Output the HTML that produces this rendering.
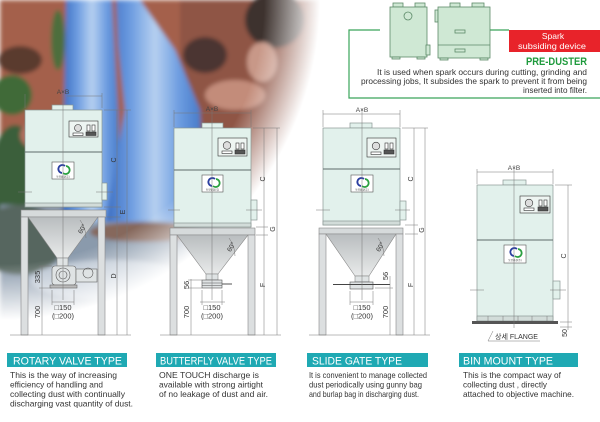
<!DOCTYPE html>
<html><head><meta charset="utf-8">
<style>
html,body{margin:0;padding:0;background:#fff;}
svg{display:block;}
text{font-family:"Liberation Sans","Noto Sans CJK KR",sans-serif;}
</style></head><body>
<svg width="600" height="422" viewBox="0 0 600 422" xmlns="http://www.w3.org/2000/svg">
<defs>
<filter id="bl" x="-10%" y="-10%" width="120%" height="120%"><feGaussianBlur stdDeviation="2.2"/></filter>
<radialGradient id="mg" cx="0" cy="0" r="330" gradientUnits="userSpaceOnUse">
 <stop offset="0" stop-color="#fff"/><stop offset="0.8" stop-color="#fff"/><stop offset="0.97" stop-color="#000"/>
</radialGradient>
<mask id="pm"><rect width="600" height="422" fill="url(#mg)"/></mask>
<linearGradient id="wf" x1="0" y1="0" x2="1" y2="0">
 <stop offset="0" stop-color="#3a6cc0"/><stop offset="0.25" stop-color="#6b9be0"/><stop offset="0.5" stop-color="#b6d0f0"/><stop offset="0.75" stop-color="#6b9be0"/><stop offset="1" stop-color="#4075c4"/>
</linearGradient>
<linearGradient id="hop" x1="0" y1="0" x2="0" y2="1"><stop offset="0" stop-color="#b9bdbf"/><stop offset="1" stop-color="#e8eaea"/></linearGradient>
</defs>

<!-- PHOTO -->
<g mask="url(#pm)"><g filter="url(#bl)">
<rect x="0" y="0" width="360" height="330" fill="#a4604c"/>
<rect x="180" y="0" width="180" height="200" fill="#8f5545"/>
<ellipse cx="205" cy="55" rx="22" ry="18" fill="#4b3430"/>
<ellipse cx="275" cy="20" rx="30" ry="28" fill="#3c302e"/>
<ellipse cx="235" cy="95" rx="30" ry="15" fill="#c38c7a"/>
<ellipse cx="262" cy="62" rx="15" ry="20" fill="#c89888"/>
<ellipse cx="150" cy="75" rx="12" ry="25" fill="#5e4036"/>
<ellipse cx="20" cy="60" rx="22" ry="14" fill="#5a3a2e"/>
<ellipse cx="12" cy="95" rx="20" ry="20" fill="#3f6a38"/>
<ellipse cx="58" cy="40" rx="7" ry="30" fill="#4e6e3c"/>
<ellipse cx="15" cy="180" rx="25" ry="55" fill="#3b5e3a"/>
<ellipse cx="40" cy="135" rx="20" ry="15" fill="#b47060"/>
<rect x="0" y="205" width="360" height="130" fill="#8a9aac"/>
<ellipse cx="20" cy="240" rx="45" ry="35" fill="#56665e"/>
<ellipse cx="250" cy="215" rx="60" ry="12" fill="#9a7a70"/>
<ellipse cx="110" cy="280" rx="80" ry="20" fill="#b4c0ce"/>
<polygon points="66,0 112,0 118,110 122,222 62,222 64,110" fill="url(#wf)"/>
<polygon points="116,0 140,0 175,50 200,110 205,222 105,222 125,110 118,45" fill="url(#wf)"/>
<ellipse cx="145" cy="232" rx="55" ry="10" fill="#86685c"/>
</g></g>

<!-- PRE-DUSTER -->
<path d="M380,30 H349 V98 H600" fill="none" stroke="#3aa55a" stroke-width="1.2"/>
<path d="M490,30 H509" fill="none" stroke="#3aa55a" stroke-width="1.2"/>
<g fill="#cfe8d4" stroke="#5c8a68" stroke-width="0.8">
<rect x="393" y="3" width="10" height="4"/><rect x="415" y="3" width="10" height="4"/>
<rect x="390" y="7" width="37" height="50"/>
<rect x="426" y="45" width="4" height="10"/>
<rect x="392" y="57" width="8" height="2"/><rect x="417" y="57" width="8" height="2"/>
<circle cx="408" cy="16" r="4"/>
<rect x="450" y="3" width="10" height="4"/><rect x="472" y="3" width="12" height="4"/>
<rect x="435" y="10" width="3" height="12"/>
<rect x="438" y="7" width="52" height="51"/>
<line x1="438" y1="45" x2="490" y2="45"/>
<rect x="455" y="30" width="10" height="3"/><rect x="455" y="49" width="10" height="3"/>
<rect x="440" y="58" width="8" height="2"/><rect x="480" y="58" width="8" height="2"/>
</g>
<rect x="509" y="30" width="91" height="22" fill="#e8232a"/>
<text x="553" y="39" font-size="8.5" fill="#fff" text-anchor="middle">Spark</text>
<text x="518" y="49" font-size="8.5" fill="#fff" textLength="68" lengthAdjust="spacingAndGlyphs">subsiding device</text>
<text x="526" y="65" font-size="11" font-weight="bold" fill="#1e9a3c" textLength="61" lengthAdjust="spacingAndGlyphs">PRE-DUSTER</text>
<text x="377" y="75" font-size="8.5" fill="#333" textLength="210" lengthAdjust="spacingAndGlyphs">It is used when spark occurs during cutting, grinding and</text>
<text x="361" y="84" font-size="8.5" fill="#333" textLength="226" lengthAdjust="spacingAndGlyphs">processing jobs, It subsides the spark to prevent it from being</text>
<text x="523" y="93" font-size="8.5" fill="#333" textLength="64" lengthAdjust="spacingAndGlyphs">inserted into filter.</text>

<!-- ===== M1 ROTARY ===== -->
<g stroke="#8a9794" stroke-width="0.7">
<rect x="52" y="105" width="21" height="5" fill="#e2f1ec"/>
<rect x="25" y="110" width="77" height="97" fill="#e2f1ec"/>
<rect x="25" y="203" width="77" height="4" fill="#d2dcd9"/>
<rect x="102" y="183" width="5" height="17" fill="#e2f1ec"/>
</g>
<line x1="25" y1="152" x2="102" y2="152" stroke="#5f6c6a" stroke-width="0.9"/>
<g stroke="#888" stroke-width="0.6">
<rect x="21" y="210" width="85" height="7" fill="#d6dadb"/>
<rect x="21" y="217" width="7" height="118" fill="#dcdfe0"/>
<rect x="98" y="217" width="7" height="118" fill="#dcdfe0"/>
<polygon points="28,217 98,217 68,258 57,258" fill="url(#hop)"/>
<rect x="57" y="258" width="11" height="8" fill="#dfe3e4"/>
<rect x="52" y="266" width="24" height="19" rx="3" fill="#dfe3e4" stroke="#666"/>
<circle cx="63" cy="275" r="7" fill="none" stroke="#555"/>
<circle cx="63" cy="275" r="4" fill="none" stroke="#555"/>
<rect x="76" y="269" width="21" height="13" fill="#dfe3e4" stroke="#666"/>
<circle cx="88" cy="273" r="5" fill="none" stroke="#555"/>
<rect x="50" y="285" width="27" height="3" fill="#bbb" stroke="#666"/>
</g>
<g transform="translate(69,121)" stroke="#333" stroke-width="0.6">
<rect width="29" height="16" fill="#eef5f2"/>
<circle cx="9" cy="7" r="3.5" fill="#ddd"/>
<rect x="4" y="12" width="10" height="2.5" fill="#fff"/>
<rect x="18" y="4" width="3" height="6" fill="#fff"/><rect x="23" y="4" width="3" height="6" fill="#fff"/>
<rect x="17" y="11" width="10" height="3.5" fill="#555"/>
</g>
<rect x="52" y="162" width="22" height="17" fill="#fff" stroke="#555" stroke-width="0.6"/>
<path d="M65,166 a4,4 0 1 0 -3,7" fill="none" stroke="#2a3ea0" stroke-width="1.8"/>
<path d="M61,173 a4,4 0 1 0 3,-7" fill="none" stroke="#2aa040" stroke-width="1.8" transform="translate(2,0)"/>
<text x="63" y="177.5" font-size="2.5" fill="#333" text-anchor="middle">동양환경(주)</text>
<g stroke="#777" stroke-width="0.5" fill="none">
<line x1="63" y1="90" x2="63" y2="300"/>
<line x1="18" y1="192" x2="32" y2="192"/><line x1="96" y1="192" x2="113" y2="192"/>
<line x1="67" y1="96" x2="102" y2="96"/><line x1="25" y1="94" x2="25" y2="108"/><line x1="102" y1="93" x2="102" y2="108"/>
<line x1="104" y1="110" x2="131" y2="110"/><line x1="104" y1="207" x2="121" y2="207"/><line x1="107" y1="217" x2="121" y2="217"/>
<line x1="117" y1="110" x2="117" y2="335"/><line x1="127" y1="110" x2="127" y2="335"/>
<line x1="42" y1="266" x2="42" y2="335"/><line x1="39" y1="266" x2="52" y2="266"/><line x1="39" y1="288" x2="52" y2="288"/>
<line x1="52" y1="302" x2="74" y2="302"/><line x1="52" y1="290" x2="52" y2="305"/><line x1="74" y1="290" x2="74" y2="305"/>
<line x1="10" y1="335" x2="131" y2="335"/>
<path d="M80,220 A30,30 0 0 1 86,238"/>
</g>
<text x="63" y="94" font-size="6.5" fill="#444" text-anchor="middle">A×B</text>
<text transform="translate(116,160) rotate(-90)" font-size="7" fill="#333" text-anchor="middle">C</text>
<text transform="translate(125,212) rotate(-90)" font-size="7" fill="#333" text-anchor="middle">E</text>
<text transform="translate(116,276) rotate(-90)" font-size="7" fill="#333" text-anchor="middle">D</text>
<text transform="translate(40,277) rotate(-90)" font-size="7.5" fill="#333" text-anchor="middle">335</text>
<text transform="translate(40,312) rotate(-90)" font-size="7.5" fill="#333" text-anchor="middle">700</text>
<text transform="translate(84,230) rotate(-60)" font-size="6.5" fill="#333" text-anchor="middle">60°</text>
<text x="63" y="310" font-size="7.5" fill="#333" text-anchor="middle">□150</text>
<text x="63" y="318.5" font-size="7.5" fill="#333" text-anchor="middle">(□200)</text>

<!-- ===== M2 BUTTERFLY ===== -->
<g stroke="#8a9794" stroke-width="0.7">
<rect x="202" y="123" width="21" height="5" fill="#e2f1ec"/>
<rect x="174" y="128" width="77" height="99" fill="#e2f1ec"/>
<rect x="174" y="223" width="77" height="4" fill="#d2dcd9"/>
<rect x="251" y="200" width="6" height="20" fill="#e2f1ec"/>
</g>
<line x1="174" y1="170" x2="251" y2="170" stroke="#5f6c6a" stroke-width="0.9"/>
<g stroke="#888" stroke-width="0.6">
<rect x="170" y="228" width="85" height="7" fill="#d6dadb"/>
<rect x="170" y="235" width="7" height="100" fill="#dcdfe0"/>
<rect x="248" y="235" width="7" height="100" fill="#dcdfe0"/>
<polygon points="177,235 248,235 218,274 206,274" fill="url(#hop)"/>
<rect x="206" y="274" width="12" height="6" fill="#dfe3e4"/>
<rect x="202" y="280" width="20" height="8" fill="#dfe3e4" stroke="#555"/>
<line x1="202" y1="283" x2="222" y2="283" stroke="#555"/>
<line x1="202" y1="285.5" x2="222" y2="285.5" stroke="#555"/>
<line x1="222" y1="284" x2="232" y2="284" stroke="#555" stroke-width="1"/>
</g>
<g transform="translate(218,138)" stroke="#333" stroke-width="0.6">
<rect width="29" height="18" fill="#eef5f2"/>
<circle cx="9" cy="7.5" r="3.8" fill="#ddd"/>
<rect x="4" y="13" width="10" height="2.5" fill="#fff"/>
<rect x="18" y="5" width="3" height="6" fill="#fff"/><rect x="23" y="5" width="3" height="6" fill="#fff"/>
<rect x="17" y="12" width="10" height="4" fill="#555"/>
</g>
<rect x="202" y="175" width="21" height="17" fill="#fff" stroke="#555" stroke-width="0.6"/>
<path d="M215,179 a4,4 0 1 0 -3,7" fill="none" stroke="#2a3ea0" stroke-width="1.8"/>
<path d="M211,186 a4,4 0 1 0 3,-7" fill="none" stroke="#2aa040" stroke-width="1.8" transform="translate(2,0)"/>
<text x="212.5" y="190.5" font-size="2.5" fill="#333" text-anchor="middle">동양환경(주)</text>
<g stroke="#777" stroke-width="0.5" fill="none">
<line x1="212" y1="108" x2="212" y2="300"/>
<line x1="168" y1="210" x2="180" y2="210"/><line x1="246" y1="210" x2="262" y2="210"/>
<line x1="174" y1="113" x2="251" y2="113"/><line x1="174" y1="110" x2="174" y2="127"/><line x1="251" y1="110" x2="251" y2="127"/>
<line x1="253" y1="128" x2="280" y2="128"/><line x1="256" y1="227" x2="268" y2="227"/><line x1="256" y1="235" x2="268" y2="235"/>
<line x1="264" y1="128" x2="264" y2="335"/><line x1="277" y1="128" x2="277" y2="335"/>
<line x1="191" y1="279" x2="191" y2="335"/><line x1="188" y1="280" x2="202" y2="280"/><line x1="188" y1="288" x2="202" y2="288"/>
<line x1="200" y1="302" x2="225" y2="302"/><line x1="202" y1="290" x2="202" y2="305"/><line x1="222" y1="290" x2="222" y2="305"/>
<line x1="160" y1="335" x2="281" y2="335"/>
<path d="M229,238 A30,30 0 0 1 235,256"/>
</g>
<text x="212" y="111" font-size="6.5" fill="#444" text-anchor="middle">A×B</text>
<text transform="translate(265,179) rotate(-90)" font-size="7" fill="#333" text-anchor="middle">C</text>
<text transform="translate(275,229) rotate(-90)" font-size="7" fill="#333" text-anchor="middle">G</text>
<text transform="translate(265,285) rotate(-90)" font-size="7" fill="#333" text-anchor="middle">F</text>
<text transform="translate(189,285) rotate(-90)" font-size="7.5" fill="#333" text-anchor="middle">56</text>
<text transform="translate(189,312) rotate(-90)" font-size="7.5" fill="#333" text-anchor="middle">700</text>
<text transform="translate(233,248) rotate(-60)" font-size="6.5" fill="#333" text-anchor="middle">60°</text>
<text x="212" y="310" font-size="7.5" fill="#333" text-anchor="middle">□150</text>
<text x="212" y="318.5" font-size="7.5" fill="#333" text-anchor="middle">(□200)</text>

<!-- ===== M3 SLIDE GATE ===== -->
<g stroke="#8a9794" stroke-width="0.7">
<rect x="350" y="123" width="22" height="5" fill="#e2f1ec"/>
<rect x="323" y="128" width="77" height="97" fill="#e2f1ec"/>
<rect x="323" y="221" width="77" height="4" fill="#d2dcd9"/>
<rect x="400" y="201" width="6" height="19" fill="#e2f1ec"/>
</g>
<line x1="323" y1="169" x2="400" y2="169" stroke="#5f6c6a" stroke-width="0.9"/>
<g stroke="#888" stroke-width="0.6">
<rect x="319" y="228" width="84" height="6" fill="#d6dadb"/>
<rect x="319" y="234" width="7" height="101" fill="#dcdfe0"/>
<rect x="396" y="234" width="7" height="101" fill="#dcdfe0"/>
<polygon points="326,234 396,234 369,276 355,276" fill="url(#hop)"/>
<rect x="355" y="276" width="14" height="6" fill="#dfe3e4"/>
<rect x="350" y="282" width="23" height="7" fill="#dfe3e4" stroke="#555"/>
<line x1="333" y1="284.5" x2="390" y2="284.5" stroke="#444" stroke-width="1"/>
</g>
<g transform="translate(367,138)" stroke="#333" stroke-width="0.6">
<rect width="29" height="19" fill="#eef5f2"/>
<circle cx="9" cy="8" r="3.8" fill="#ddd"/>
<rect x="4" y="14" width="10" height="2.5" fill="#fff"/>
<rect x="18" y="5" width="3" height="6" fill="#fff"/><rect x="23" y="5" width="3" height="6" fill="#fff"/>
<rect x="17" y="12" width="10" height="4" fill="#555"/>
</g>
<rect x="351" y="175" width="22" height="17" fill="#fff" stroke="#555" stroke-width="0.6"/>
<path d="M364,179 a4,4 0 1 0 -3,7" fill="none" stroke="#2a3ea0" stroke-width="1.8"/>
<path d="M360,186 a4,4 0 1 0 3,-7" fill="none" stroke="#2aa040" stroke-width="1.8" transform="translate(2,0)"/>
<text x="362" y="190.5" font-size="2.5" fill="#333" text-anchor="middle">동양환경(주)</text>
<g stroke="#777" stroke-width="0.5" fill="none">
<line x1="362" y1="108" x2="362" y2="300"/>
<line x1="316" y1="210" x2="330" y2="210"/><line x1="395" y1="210" x2="410" y2="210"/>
<line x1="323" y1="114" x2="400" y2="114"/><line x1="323" y1="110" x2="323" y2="127"/><line x1="400" y1="110" x2="400" y2="127"/>
<line x1="402" y1="128" x2="428" y2="128"/><line x1="405" y1="225" x2="418" y2="225"/><line x1="405" y1="234" x2="418" y2="234"/>
<line x1="414" y1="128" x2="414" y2="335"/><line x1="425" y1="128" x2="425" y2="335"/>
<line x1="390" y1="276" x2="390" y2="335"/><line x1="375" y1="288" x2="393" y2="288"/>
<line x1="350" y1="302" x2="373" y2="302"/><line x1="350" y1="291" x2="350" y2="305"/><line x1="373" y1="291" x2="373" y2="305"/>
<line x1="309" y1="335" x2="430" y2="335"/>
<path d="M378,238 A30,30 0 0 1 384,256"/>
</g>
<text x="362" y="112" font-size="6.5" fill="#444" text-anchor="middle">A×B</text>
<text transform="translate(413,179) rotate(-90)" font-size="7" fill="#333" text-anchor="middle">C</text>
<text transform="translate(424,230) rotate(-90)" font-size="7" fill="#333" text-anchor="middle">G</text>
<text transform="translate(413,285) rotate(-90)" font-size="7" fill="#333" text-anchor="middle">F</text>
<text transform="translate(388,276) rotate(-90)" font-size="7.5" fill="#333" text-anchor="middle">56</text>
<text transform="translate(388,312) rotate(-90)" font-size="7.5" fill="#333" text-anchor="middle">700</text>
<text transform="translate(382,248) rotate(-60)" font-size="6.5" fill="#333" text-anchor="middle">60°</text>
<text x="362" y="310" font-size="7.5" fill="#333" text-anchor="middle">□150</text>
<text x="362" y="318.5" font-size="7.5" fill="#333" text-anchor="middle">(□200)</text>

<!-- ===== M4 BIN MOUNT ===== -->
<g stroke="#8a9794" stroke-width="0.7">
<rect x="503" y="180" width="23" height="5" fill="#e2f1ec"/>
<rect x="477" y="185" width="76" height="137" fill="#e2f1ec"/>
<rect x="477" y="316" width="76" height="5" fill="#d2dcd9"/>
<rect x="553" y="281" width="7" height="18" fill="#e2f1ec"/>
</g>
<line x1="477" y1="240" x2="553" y2="240" stroke="#5f6c6a" stroke-width="0.9"/>
<g stroke="#777" stroke-width="0.5">
<line x1="488" y1="316" x2="488" y2="321"/><line x1="503" y1="316" x2="503" y2="321"/><line x1="518" y1="316" x2="518" y2="321"/><line x1="532" y1="316" x2="532" y2="321"/><line x1="547" y1="316" x2="547" y2="321"/>
</g>
<rect x="472" y="321" width="86" height="3" fill="#555"/>
<g transform="translate(520,196)" stroke="#333" stroke-width="0.6">
<rect width="30" height="17" fill="#eef5f2"/>
<circle cx="9" cy="7" r="3.8" fill="#ddd"/>
<rect x="4" y="12" width="10" height="2.5" fill="#fff"/>
<rect x="19" y="4" width="3" height="6" fill="#fff"/><rect x="24" y="4" width="3" height="6" fill="#fff"/>
<rect x="18" y="11" width="10" height="4" fill="#555"/>
</g>
<rect x="504" y="245" width="22" height="18" fill="#fff" stroke="#555" stroke-width="0.6"/>
<path d="M517,249 a4,4 0 1 0 -3,7" fill="none" stroke="#2a3ea0" stroke-width="1.8"/>
<path d="M513,256 a4,4 0 1 0 3,-7" fill="none" stroke="#2aa040" stroke-width="1.8" transform="translate(2,0)"/>
<text x="515" y="261" font-size="2.5" fill="#333" text-anchor="middle">동양환경(주)</text>
<g stroke="#777" stroke-width="0.5" fill="none">
<line x1="514" y1="165" x2="514" y2="328"/>
<line x1="470" y1="290" x2="484" y2="290"/><line x1="550" y1="290" x2="566" y2="290"/>
<line x1="477" y1="172" x2="553" y2="172"/><line x1="477" y1="169" x2="477" y2="184"/><line x1="553" y1="169" x2="553" y2="184"/>
<line x1="555" y1="185" x2="572" y2="185"/><line x1="560" y1="322" x2="572" y2="322"/><line x1="560" y1="327" x2="572" y2="327"/>
<line x1="568" y1="185" x2="568" y2="330"/>
<line x1="488" y1="341" x2="493" y2="331"/><line x1="488" y1="341" x2="540" y2="341"/>
</g>
<text x="514" y="170" font-size="6.5" fill="#444" text-anchor="middle">A×B</text>
<text transform="translate(566,256) rotate(-90)" font-size="7" fill="#333" text-anchor="middle">C</text>
<text transform="translate(567,333) rotate(-90)" font-size="7" fill="#333" text-anchor="middle">50</text>
<text x="495" y="339" font-size="7" fill="#333" textLength="43" lengthAdjust="spacingAndGlyphs">상세 FLANGE</text>

<!-- ===== HEADINGS ===== -->
<rect x="7" y="353" width="120" height="14" fill="#1fa9b3"/>
<text x="13" y="364.5" font-size="11" fill="#fff" textLength="109" lengthAdjust="spacingAndGlyphs">ROTARY VALVE TYPE</text>
<rect x="156" y="353" width="120" height="14" fill="#1fa9b3"/>
<text x="160" y="364.5" font-size="11" fill="#fff" textLength="112" lengthAdjust="spacingAndGlyphs">BUTTERFLY VALVE TYPE</text>
<rect x="307" y="353" width="121" height="14" fill="#1fa9b3"/>
<text x="312" y="364.5" font-size="11" fill="#fff" textLength="90" lengthAdjust="spacingAndGlyphs">SLIDE GATE TYPE</text>
<rect x="459" y="353" width="119" height="14" fill="#1fa9b3"/>
<text x="463" y="364.5" font-size="11" fill="#fff" textLength="90" lengthAdjust="spacingAndGlyphs">BIN MOUNT TYPE</text>

<!-- ===== DESCRIPTIONS ===== -->
<g font-size="8.5" fill="#333">
<text x="10" y="378" textLength="107" lengthAdjust="spacingAndGlyphs">This is the way of increasing</text>
<text x="10" y="387.5" textLength="93" lengthAdjust="spacingAndGlyphs">efficiency of handling and</text>
<text x="10" y="397" textLength="115" lengthAdjust="spacingAndGlyphs">collecting dust with continually</text>
<text x="10" y="406.5" textLength="123" lengthAdjust="spacingAndGlyphs">discharging vast quantity of dust.</text>
<text x="159" y="378" textLength="100" lengthAdjust="spacingAndGlyphs">ONE TOUCH discharge is</text>
<text x="159" y="387.5" textLength="104" lengthAdjust="spacingAndGlyphs">available with strong airtight</text>
<text x="159" y="397" textLength="109" lengthAdjust="spacingAndGlyphs">of no leakage of dust and air.</text>
<text x="309" y="378" textLength="118" lengthAdjust="spacingAndGlyphs">It is convenient to manage collected</text>
<text x="309" y="387.5" textLength="113" lengthAdjust="spacingAndGlyphs">dust periodically using gunny bag</text>
<text x="309" y="397" textLength="110" lengthAdjust="spacingAndGlyphs">and burlap bag in discharging dust.</text>
<text x="463" y="378" textLength="98" lengthAdjust="spacingAndGlyphs">This is the compact way of</text>
<text x="463" y="387.5" textLength="84" lengthAdjust="spacingAndGlyphs">collecting dust , directly</text>
<text x="463" y="397" textLength="111" lengthAdjust="spacingAndGlyphs">attached to objective machine.</text>
</g>
</svg>
</body></html>
